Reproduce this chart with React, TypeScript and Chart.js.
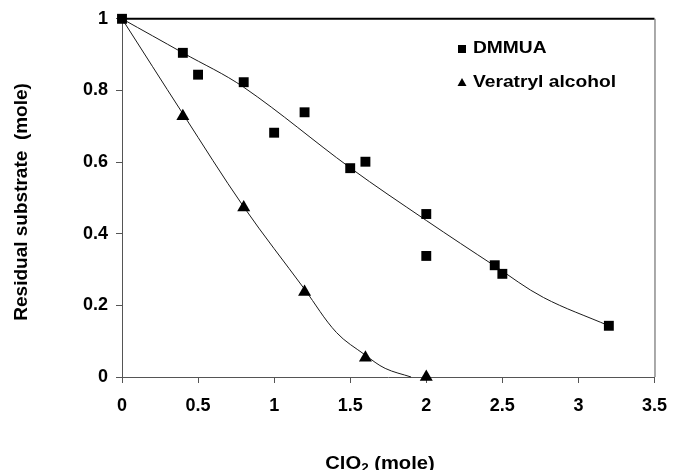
import React, { useEffect, useRef } from 'react';
import { Chart, registerables } from 'chart.js';

Chart.register(...registerables);

// Axis ticks
const xTicks = [0, 0.5, 1, 1.5, 2, 2.5, 3, 3.5];
const yTicks = [0, 0.2, 0.4, 0.6, 0.8, 1];

// Measured points
const dmmuaX = [0, 0.4, 0.5, 0.8, 1.0, 1.2, 1.5, 1.6, 2.0, 2.0, 2.45, 2.5, 3.2];
const dmmuaY = [1.0, 0.905, 0.844, 0.823, 0.682, 0.739, 0.583, 0.601, 0.455, 0.338, 0.312, 0.288, 0.143];
const veratrylX = [0.4, 0.8, 1.2, 1.6, 2.0];
const veratrylY = [0.728, 0.473, 0.237, 0.054, 0.0];

// Fitted trend curves
const dmmuaFitX = [0, 0.4, 0.8, 1.5, 2.0, 2.45, 2.77, 3.2];
const dmmuaFitY = [1, 0.905, 0.809, 0.584, 0.437, 0.31, 0.222, 0.143];
const veratrylFitX = [0, 0.4, 0.8, 1.2, 1.41, 1.6, 1.73, 1.9];
const veratrylFitY = [1, 0.735, 0.475, 0.245, 0.124, 0.061, 0.024, 0.0];

const seriesNames = ['DMMUA', 'Veratryl alcohol'];

const FONT = '"Liberation Sans", Arial, sans-serif';

const zip = (xs: number[], ys: number[]) => xs.map((x, i) => ({ x, y: ys[i] }));

const decorPlugin = {
  id: 'decor',
  afterDraw(chart: any) {
    const { ctx, chartArea: a } = chart;
    ctx.save();
    // frame: top (heavier) and right
    ctx.strokeStyle = '#000';
    ctx.lineWidth = 2;
    ctx.beginPath();
    ctx.moveTo(a.left, a.top);
    ctx.lineTo(a.right, a.top);
    ctx.stroke();
    ctx.strokeStyle = '#555';
    ctx.lineWidth = 1;
    ctx.beginPath();
    ctx.moveTo(a.right + 0.5, a.top);
    ctx.lineTo(a.right + 0.5, a.bottom);
    ctx.stroke();

    // Legend
    ctx.fillStyle = '#000';
    const lx = 462;
    const ly1 = 49;
    const ly2 = 83;
    ctx.fillRect(lx - 4, ly1 - 4, 8, 8);
    ctx.beginPath();
    ctx.moveTo(lx, ly2 - 5);
    ctx.lineTo(lx + 4.5, ly2 + 3);
    ctx.lineTo(lx - 4.5, ly2 + 3);
    ctx.closePath();
    ctx.fill();
    ctx.font = `bold 16px ${FONT}`;
    ctx.textBaseline = 'middle';
    ctx.textAlign = 'left';
    ctx.save();
    ctx.translate(473, ly1);
    ctx.scale(1.2, 1);
    ctx.fillText(seriesNames[0], 0, 0);
    ctx.restore();
    ctx.save();
    ctx.translate(473, ly2);
    ctx.scale(1.2, 1);
    ctx.fillText(seriesNames[1], 0, 0);
    ctx.restore();

    // Y title
    ctx.save();
    ctx.translate(22, (a.top + a.bottom) / 2 + 4);
    ctx.rotate(-Math.PI / 2);
    ctx.font = `bold 19px ${FONT}`;
    ctx.textAlign = 'center';
    ctx.textBaseline = 'middle';
    ctx.fillText('Residual substrate  (mole)', 0, 0);
    ctx.restore();

    // X title: ClO2 (mole) with subscript
    ctx.save();
    ctx.font = `bold 18px ${FONT}`;
    const p1 = 'ClO';
    const p3 = ' (mole)';
    const w1 = ctx.measureText(p1).width;
    const w3 = ctx.measureText(p3).width;
    ctx.font = `bold 12px ${FONT}`;
    const w2 = ctx.measureText('2').width;
    const sx = 1.12;
    const total = (w1 + w2 + w3) * sx;
    const cx = 380;
    const base = 469;
    ctx.translate(cx - total / 2, base);
    ctx.scale(sx, 1);
    ctx.textAlign = 'left';
    ctx.textBaseline = 'alphabetic';
    ctx.font = `bold 18px ${FONT}`;
    ctx.fillText(p1, 0, 0);
    ctx.font = `bold 12px ${FONT}`;
    ctx.fillText('2', w1, 3);
    ctx.font = `bold 18px ${FONT}`;
    ctx.fillText(p3, w1 + w2, 0);
    ctx.restore();

    ctx.restore();
  },
};

export default function App() {
  const ref = useRef<HTMLCanvasElement | null>(null);

  useEffect(() => {
    document.body.style.margin = '0';
    if (!ref.current) return;
    const chart = new Chart(ref.current, {
      type: 'scatter',
      data: {
        datasets: [
          {
            label: seriesNames[0],
            data: zip(dmmuaX, dmmuaY),
            pointStyle: 'rect',
            pointRadius: 7,
            backgroundColor: '#000',
            borderWidth: 0,
            showLine: false,
            clip: false as any,
          },
          {
            label: seriesNames[1],
            data: zip(veratrylX, veratrylY),
            pointStyle: 'triangle',
            pointRadius: 7.5,
            backgroundColor: '#000',
            borderWidth: 0,
            showLine: false,
            clip: false as any,
          },
          {
            label: 'fit1',
            data: zip(dmmuaFitX, dmmuaFitY),
            showLine: true,
            pointRadius: 0,
            borderColor: '#1a1a1a',
            borderWidth: 1,
            tension: 0.35,
            clip: false as any,
          },
          {
            label: 'fit2',
            data: zip(veratrylFitX, veratrylFitY),
            showLine: true,
            pointRadius: 0,
            borderColor: '#1a1a1a',
            borderWidth: 1,
            tension: 0.35,
            clip: false as any,
          },
        ],
      },
      options: {
        animation: false,
        responsive: false,
        devicePixelRatio: 1,
        layout: { padding: { top: 18, right: 16, left: 0, bottom: 0 } },
        plugins: {
          legend: { display: false },
          tooltip: { enabled: false },
        },
        scales: {
          x: {
            type: 'linear',
            min: 0,
            max: 3.5,
            afterBuildTicks: (s: any) => {
              s.ticks = xTicks.map((v) => ({ value: v }));
            },
            afterFit: (s: any) => {
              s.height = 93;
            },
            grid: {
              display: true,
              drawOnChartArea: false,
              drawTicks: true,
              tickLength: 6,
              color: '#555',
            },
            border: { display: true, color: '#555', width: 1 },
            ticks: {
              color: '#000',
              padding: 12,
              maxRotation: 0,
              autoSkip: false,
              callback: (v: any) => String(Number(v)),
              font: { family: FONT, size: 18, weight: 'bold' },
            },
          },
          y: {
            type: 'linear',
            min: 0,
            max: 1,
            afterBuildTicks: (s: any) => {
              s.ticks = yTicks.map((v) => ({ value: v }));
            },
            afterFit: (s: any) => {
              s.width = 122;
            },
            grid: {
              display: true,
              drawOnChartArea: false,
              drawTicks: true,
              tickLength: 6,
              color: '#555',
            },
            border: { display: true, color: '#555', width: 1 },
            ticks: {
              color: '#000',
              padding: 8,
              autoSkip: false,
              callback: (v: any) => String(Number(v)),
              font: { family: FONT, size: 18, weight: 'bold' },
            },
          },
        },
      } as any,
      plugins: [decorPlugin],
    });
    return () => chart.destroy();
  }, []);

  return (
    <div style={{ position: 'fixed', left: 0, top: 0, width: 679, height: 470, background: '#fff' }}>
      <canvas ref={ref} width={679} height={470} style={{ width: 679, height: 470 }} />
    </div>
  );
}
